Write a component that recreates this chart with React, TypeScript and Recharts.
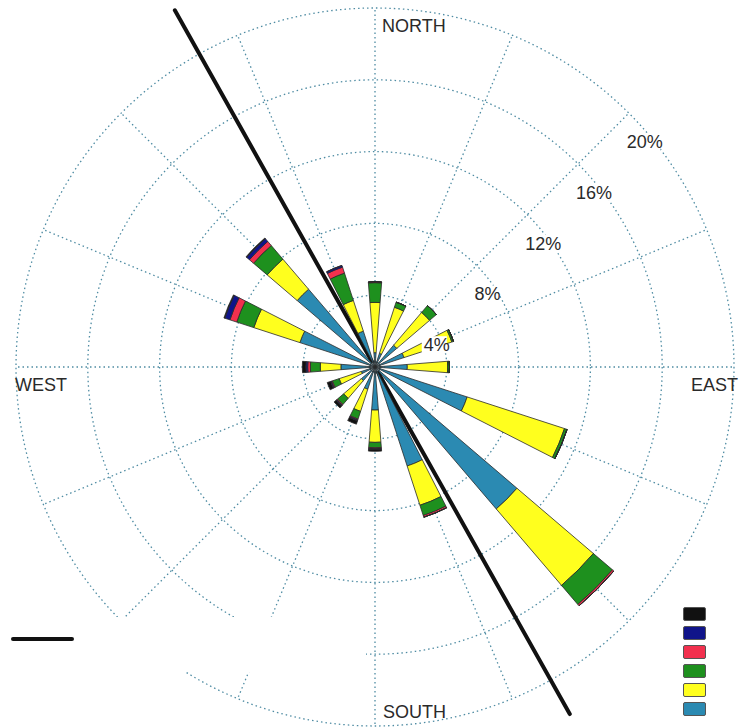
import React from "react";
import {
  Customized,
  Legend,
  PolarAngleAxis,
  PolarGrid,
  PolarRadiusAxis,
  RadialBar,
  RadialBarChart,
} from "recharts";

// 16 compass sectors, clockwise from north
const directions = ['N', 'NNE', 'NE', 'ENE', 'E', 'ESE', 'SE', 'SSE', 'S', 'SSW', 'SW', 'WSW', 'W', 'WNW', 'NW', 'NNW'];

// frequency (%) per speed class, innermost class first
const class1 = [0.8, 0.8, 1.6, 1.7, 1.8, 5.4, 10.4, 5.8, 2.4, 1.3, 1.0, 0.8, 1.9, 4.4, 5.7, 2.1];
const class2 = [2.8, 2.7, 2.4, 2.8, 2.25, 5.7, 5.6, 2.3, 1.8, 1.3, 1.3, 1.3, 1.15, 2.7, 2.2, 1.8];
const class3 = [1.1, 0.3, 0.5, 0.1, 0.1, 0.15, 1.4, 0.6, 0.3, 0.45, 0.45, 0.4, 0.55, 1.0, 1.0, 1.6];
const class4 = [0.05, 0, 0, 0, 0, 0, 0.1, 0.1, 0.05, 0.05, 0.05, 0.05, 0.15, 0.4, 0.3, 0.35];
const class5 = [0, 0, 0, 0, 0, 0, 0, 0, 0.05, 0.05, 0.05, 0.05, 0.1, 0.3, 0.2, 0.1];
const class6 = [0, 0, 0, 0, 0, 0, 0, 0, 0.1, 0.2, 0.15, 0.2, 0.2, 0.05, 0.05, 0];

const radiusTicks = [4, 8, 12, 16, 20];
const compassLabels = ['NORTH', 'EAST', 'SOUTH', 'WEST'];

const speedClasses = [
  {key: 'c1', color: '#2b8ab2'},
  {key: 'c2', color: '#ffff1e'},
  {key: 'c3', color: '#1e901e'},
  {key: 'c4', color: '#f2304e'},
  {key: 'c5', color: '#10148a'},
  {key: 'c6', color: '#111111'},
];

const data = directions.map((dir, i) => ({
  dir,
  c1: class1[i],
  c2: class2[i],
  c3: class3[i],
  c4: class4[i],
  c5: class5[i],
  c6: class6[i],
}));

const CX = 375;
const CY = 367;
const R = 359;
const FONT = '"Liberation Sans", Arial, sans-serif';

const toRad = (deg: number) => (deg * Math.PI) / 180;
const point = (bearing: number, r: number) => ({
  x: CX + r * Math.sin(toRad(bearing)),
  y: CY - r * Math.cos(toRad(bearing)),
});

const RadiusTick = ({x, y, payload}: any) => {
  if (!payload || payload.value === 0) return null;
  const label = `${payload.value}%`;
  const w = label.length * 10.5;
  return (
    <g>
      <rect x={x - 4} y={y + 20} width={w + 4} height={17} fill="#fff"/>
      <text x={x - 2} y={y + 35} fontSize={18} fontFamily={FONT} fill="#2a2a2a">{label}</text>
    </g>
  );
};

const Overlay = () => {
  const a = point(330.7, 409);
  const b = point(150.7, 398);
  const textStyle = {fontSize: 18, fontFamily: FONT, fill: '#2a2a2a'};
  return (
    <g>
      {/* blank patch in the lower-left */}
      <rect x={0} y={617} width={366} height={55} fill="#fff"/>
      <line x1={13} y1={639} x2={72} y2={639} stroke="#111" strokeWidth={4} strokeLinecap="round"/>
      <line x1={a.x} y1={a.y} x2={b.x} y2={b.y} stroke="#111" strokeWidth={4} strokeLinecap="round"/>
      <circle cx={CX} cy={CY} r={5} fill="#fff" stroke="#333" strokeWidth={1}/>
      <text x={CX + 7} y={CY - R + 24} {...textStyle}>{compassLabels[0]}</text>
      <text x={CX + R + 4} y={CY + 24} textAnchor="end" {...textStyle}>{compassLabels[1]}</text>
      <text x={CX + 8} y={CY + R - 8} {...textStyle}>{compassLabels[2]}</text>
      <text x={CX - R - 1} y={CY + 24} {...textStyle}>{compassLabels[3]}</text>
    </g>
  );
};

const LegendBoxes = () => (
  <div>
    {[...speedClasses].reverse().map(c => (
      <div
        key={c.key}
        style={{
          width: 23,
          height: 14,
          marginBottom: 5,
          background: c.color,
          border: '1px solid #555',
          borderRadius: 2,
          boxSizing: 'border-box',
        }}
      />
    ))}
  </div>
);

const gridAngles = directions.map((_, i) => 90 - i * 22.5);

export default function App() {
  return (
    <div style={{position: 'absolute', left: 0, top: 0, width: 743, height: 727, background: '#fff'}}>
      <RadialBarChart
        width={743}
        height={727}
        cx={CX}
        cy={CY}
        innerRadius={0}
        outerRadius={R}
        startAngle={78.75}
        endAngle={-281.25}
        layout="centric"
        data={data}
        barCategoryGap="30%"
        margin={{top: 0, right: 0, bottom: 0, left: 0}}
      >
        <PolarGrid
          gridType="circle"
          polarAngles={gridAngles}
          stroke="#4f8ca3"
          strokeWidth={1.3}
          strokeDasharray="1.5 3"
        />
        <PolarAngleAxis type="category" dataKey="dir" tick={false} axisLine={false} tickLine={false}/>
        {speedClasses.map(c => (
          <RadialBar
            key={c.key}
            dataKey={c.key}
            stackId="a"
            fill={c.color}
            stroke="#2a2a2a"
            strokeWidth={0.8}
            isAnimationActive={false}
          />
        ))}
        <PolarRadiusAxis
          type="number"
          domain={[0, 20]}
          ticks={radiusTicks}
          angle={45}
          axisLine={false}
          tickLine={false}
          tick={<RadiusTick/>}
        />
        <Customized component={<Overlay/>}/>
        <Legend
          content={<LegendBoxes/>}
          wrapperStyle={{position: 'absolute', left: 683, top: 607, width: 24, height: 120}}
        />
      </RadialBarChart>
    </div>
  );
}
